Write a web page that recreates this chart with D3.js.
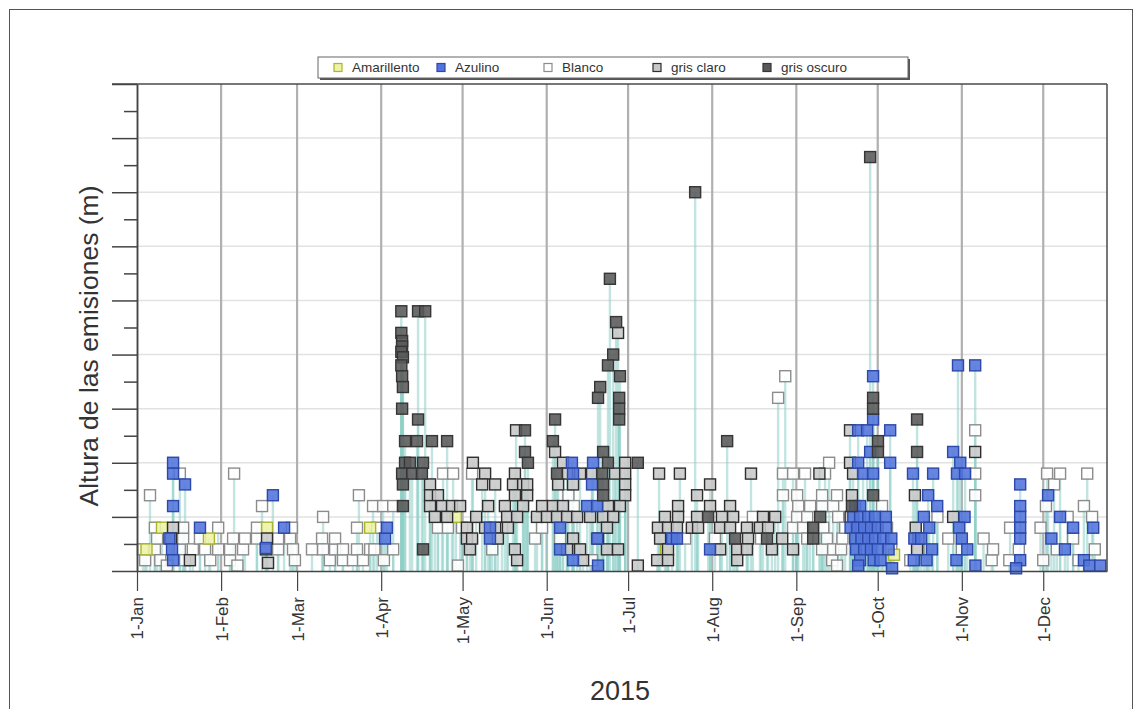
<!DOCTYPE html>
<html>
<head>
<meta charset="utf-8">
<script src="https://cdn.jsdelivr.net/npm/d3@7"></script>
<style>
  body { margin: 0; background: #fff; }
  svg { display: block; }
  text { font-family: "Liberation Sans", Arial, sans-serif; }
</style>
</head>
<body>
<svg id="chart" width="1141" height="709"></svg>
<script>
// Emission heights in 2015, one square per observation: [day of year, height in m]
const categorias = ["Amarillento", "Azulino", "Blanco", "gris claro", "gris oscuro"];
const meses = ["1-Jan", "1-Feb", "1-Mar", "1-Apr", "1-May", "1-Jun", "1-Jul", "1-Aug", "1-Sep", "1-Oct", "1-Nov", "1-Dec"];
const anio = "2015";
const tituloY = "Altura de las emisiones (m)";

const amarillento = [[4.5,80],[10.2,160],[27.5,120],[48.9,160],[86.9,160],[118.5,200],[196,80],[280,60]];

const blanco = [
  [3.2,80],[4,40],[5.8,280],[7.6,80],[7.6,160],[8.4,120],[9.6,40],[12,20],[16.8,80],[16.8,360],[18,120],[18,160],[18.7,40],[21.6,80],[24.2,120],[26.1,80],[28,40],[30.9,80],[30.9,160],
  [35.3,40],[35.3,80],[36.4,120],[36.8,360],[38,20],[40.1,80],[40.8,120],[45.2,120],[45.2,160],[47.1,240],[53,80],[53,120],[57.4,120],[58.1,160],[58.5,80],[59.2,40],
  [65.5,80],[69.2,120],[69.6,80],[69.6,200],[72.1,40],[74,80],[74,120],[76.9,40],[76.9,80],[80.6,40],[82.1,80],[82.1,160],[82.8,280],[84.3,40],[86.9,80],[88,240],[89.5,160],
  [88.5,80],[91.7,240],[92,40],[95.4,240],[95.4,80],[111.9,160],[113.8,360],[115.6,160],[117.5,360],[119.3,20],
  [120.8,160],[124.5,360],[131.9,80],[135.5,160],[147.7,120],
  [150.3,160],[156.9,120],[160,280],[162,240],[168.7,40],
  [203,120],[214,120],[228,200],[231,120],
  [237.3,640],[239.1,280],[239.1,360],[239.9,720],[242.8,160],[242.8,360],[244.3,200],[244.3,280],[244.7,240],[246.5,160],[247.2,360],[248,120],[248,200],[249.1,240],[253.5,80],[253.5,240],[253.5,280],[253.9,160],[254.6,360],[255.3,120],[256.1,400],[257.2,40],[257.6,80],[257.6,240],[259,20],[259,280],[259.4,200],
  [260.5,80],[261,120],[262,160],[268,120],[275.6,240],[277.4,160],[279,80],
  [286,40],[289,80],[292,160],[296,200],[300,120],[305,80],[309.9,280],[309.9,360],[309.9,520],[313,120],[316,40],[316.5,80],
  [322.5,40],[322.8,160],[326,80],[334,160],[335,40],[336,240],[336.4,360],[339,320],[340,80],[341.2,360],[344,200],[346,120],[348,40],[350,240],[351.2,360],[353,200],[354,80]
];

const grisClaro = [
  [14.3,160],[13.5,120],[20.5,40],[48.5,80],[49.3,30],[48.9,120],
  [109,320],[109,280],[111.9,280],[109,240],[113.4,240],[117.1,240],[110.8,200],[115.3,200],[120.1,240],[124.8,400],[129.3,360],[128.2,320],[133,320],[130.4,240],[140.7,520],[140.3,360],[139.6,320],[143.3,320],[140.3,280],[144.8,280],[144.8,320],[136.6,240],[143.3,240],[137.4,200],[141.1,200],[148.4,200],[140.3,80],[141.1,40],[122.6,160],[122.6,120],[123.7,80],[124.5,120],[137.7,160],[133,160],[129.3,160],[126,200],[134,120],
  [155.1,440],[158,400],[159.5,360],[164.3,360],[168.7,360],[177.2,360],[180.9,360],[180.9,400],[180.9,320],[180.9,280],[178.3,880],[156.2,320],[161.7,320],[174.6,240],[179,240],[150.3,240],[154.3,240],[158,240],[152.1,200],[155.8,200],[159.5,200],[163.2,200],[168,200],[172.8,200],[176.5,200],[161.7,120],[170.9,120],[174.2,160],[159.5,80],[164.3,80],[174.2,80],[178.3,80],[165.4,40],[185.6,20],
  [193.4,360],[201.1,360],[227.3,360],[212.2,320],[207.4,280],[200.4,240],[212.2,240],[219.6,240],[195.6,200],[200.4,200],[207.4,200],[216.6,200],[220.7,200],[193,160],[196.7,160],[200,160],[205.5,160],[207.8,160],[215.9,160],[219.6,160],[225.8,160],[193.8,120],[226.2,120],[196.7,80],[215.9,80],[222.2,80],[225.8,80],[192.7,40],[196.7,40],[222.2,40],[231.7,200],[236.2,200],[230.6,160],[233.6,160],[238.8,120],[235,80],[242.8,80],[252.5,360],
  [263.8,520],[263.8,400],[264.9,360],[264.5,280],[264,200],[287.7,280],[288,160],[289,120],[288.5,80],[301.8,200],[309.9,440]
];

const grisOscuro = [
  [98.4,960],[104.6,960],[107.2,960],[98.4,880],[98.7,850],[98.7,830],[98.4,810],[99,790],[98.4,760],[98.7,720],[99,680],[98.7,600],[104.6,560],[99.8,480],[104.2,480],[109.7,480],[115.3,480],[99.8,400],[101.6,400],[106.4,400],[98.7,360],[102.4,360],[106,360],[99,320],[99,240],[106.4,80],
  [144,520],[144,440],[145.1,400],
  [155.1,560],[154.3,480],[172.8,440],[175.3,1080],[177.6,920],[176.5,800],[174.6,760],[179,720],[171.7,680],[170.9,640],[178.7,640],[178.7,600],[178.7,560],[174.6,400],[155.8,360],[172.4,360],[172.8,320],[172.8,280],
  [185.6,400],[206.7,1400],[218.5,480],[211.5,200],[221.4,120],[233.2,120],[252.8,200],[250.2,160],[250.2,120],
  [271.2,1530],[272.3,640],[272.3,600],[274.1,480],[274.1,440],[272.3,280],[264.5,240],[288.5,560],[288.5,440]
];

const azulino = [
  [14.3,400],[14.3,360],[18.7,320],[14.3,240],[24.2,160],[12.9,120],[13.9,80],[14.3,40],[51.1,280],[55.2,160],[48.5,85],[92.4,120],[93.1,160],[131.1,160],[131.1,120],
  [161.3,400],[169.1,400],[161.7,360],[168.7,320],[166.9,240],[170.6,240],[156.9,160],[170.6,120],[156.9,80],[161.7,40],[170.9,20],[198.2,120],[200,120],[212.2,80],
  [272.3,720],[272.3,560],[266.8,520],[270.1,520],[278.6,520],[271.2,440],[278.6,400],[266.8,400],[268.6,360],[272.3,360],[265.7,240],[267.5,240],[265,200],[267.5,200],[270.5,200],[273,200],[277,200],[264,160],[266.5,160],[269,160],[271.5,160],[274,160],[277,160],[265.7,120],[268,120],[270.5,120],[273,120],[276,120],[279,120],[266,80],[269,80],[271.5,80],[274,80],[278,80],[267.5,40],[272.5,40],[275,40],[266.8,20],[279.3,10],
  [287,360],[294.4,360],[292.6,280],[295.9,240],[291,200],[293,160],[287.5,120],[290,120],[294,80],[287.3,40],[292,40],
  [303.6,760],[309.9,760],[301.8,440],[304.4,400],[303.2,360],[306.2,360],[306,200],[304,160],[305,120],[307,80],[303,40],[310,20],
  [326.5,320],[326.5,240],[326.5,200],[326.5,160],[326.5,120],[326.5,40],[325,10],
  [336.8,280],[341.2,200],[346,160],[353.4,160],[338,120],[343,80],[350,40],[352,20],[356,20]
];

// Square styles per class
const estilos = {
  "Amarillento": { fill: "#eef2a6", stroke: "#a9b52c" },
  "Azulino":     { fill: "#5274dc", stroke: "#2c48a8" },
  "Blanco":      { fill: "#ffffff", stroke: "#8c8c8c" },
  "gris claro":  { fill: "#c8c8c8", stroke: "#2e2e2e" },
  "gris oscuro": { fill: "#595959", stroke: "#363636" }
};

const series = [
  { clase: "Blanco", puntos: blanco },
  { clase: "Amarillento", puntos: amarillento },
  { clase: "gris claro", puntos: grisClaro },
  { clase: "Azulino", puntos: azulino },
  { clase: "gris oscuro", puntos: grisOscuro }
];

const svg = d3.select("#chart");
const plotLeft = 137, plotRight = 1107, plotTop = 84, plotBottom = 571;

const inicio = new Date(2015, 0, 1);
const fecha = dia => d3.timeHour.offset(inicio, Math.round((dia - 1) * 24));

const x = d3.scaleTime()
  .domain([inicio, new Date(2015, 11, 24, 12)])
  .range([plotLeft, plotRight]);
const y = d3.scaleLinear().domain([0, 1800]).range([plotBottom, plotTop]);

// outer frame
svg.append("rect")
  .attr("x", 9.5).attr("y", 9.5).attr("width", 1123).attr("height", 720)
  .attr("fill", "none").attr("stroke", "#555").attr("stroke-width", 1);

// horizontal grid at major ticks
const mayores = d3.range(0, 1801, 200);
const menores = d3.range(100, 1800, 200);
svg.append("g").selectAll("line").data(mayores.slice(1, -1)).join("line")
  .attr("x1", plotLeft).attr("x2", plotRight)
  .attr("y1", d => y(d)).attr("y2", d => y(d))
  .attr("stroke", "#e2e2e2").attr("stroke-width", 1.5);

// vertical grid at month starts
const inicioMeses = d3.timeMonth.range(inicio, new Date(2015, 11, 2));
svg.append("g").selectAll("line").data(inicioMeses.slice(1)).join("line")
  .attr("x1", d => x(d)).attr("x2", d => x(d))
  .attr("y1", plotTop).attr("y2", plotBottom)
  .attr("stroke", "#b0b0b0").attr("stroke-width", 2.2);

// stems from each observation down to the baseline
const todos = series.flatMap(s => s.puntos.map(p => ({ clase: s.clase, dia: p[0], altura: p[1] })));
svg.append("g").selectAll("line").data(todos).join("line")
  .attr("x1", d => x(fecha(d.dia))).attr("x2", d => x(fecha(d.dia)))
  .attr("y1", y(0)).attr("y2", d => y(d.altura))
  .attr("stroke", "#8fcfc8").attr("stroke-width", 2.4).attr("stroke-opacity", 0.55);

// squares
const lado = 11;
series.forEach(s => {
  const st = estilos[s.clase];
  svg.append("g").selectAll("rect").data(s.puntos).join("rect")
    .attr("x", d => x(fecha(d[0])) - lado / 2)
    .attr("y", d => y(d[1]) - lado / 2)
    .attr("width", lado).attr("height", lado)
    .attr("fill", st.fill).attr("fill-opacity", 0.88)
    .attr("stroke", st.stroke).attr("stroke-width", 1.4);
});

// plot frame: top and right borders
svg.append("line").attr("x1", plotLeft - 25).attr("x2", plotRight).attr("y1", plotTop).attr("y2", plotTop)
  .attr("stroke", "#4a4a4a").attr("stroke-width", 1.5);
svg.append("line").attr("x1", plotRight).attr("x2", plotRight).attr("y1", plotTop).attr("y2", plotBottom)
  .attr("stroke", "#4a4a4a").attr("stroke-width", 1.5);

// y axis: long ticks at majors, short ticks between, no labels
const ejeY1 = svg.append("g").attr("transform", `translate(${plotLeft},0)`)
  .call(d3.axisLeft(y).tickValues(mayores).tickSize(25).tickSizeOuter(0).tickFormat(""));
const ejeY2 = svg.append("g").attr("transform", `translate(${plotLeft},0)`)
  .call(d3.axisLeft(y).tickValues(menores).tickSize(13).tickSizeOuter(0).tickFormat(""));
[ejeY1, ejeY2].forEach(g => {
  g.selectAll("line").attr("stroke", "#444").attr("stroke-width", 1.5);
  g.select(".domain").attr("stroke", "#444").attr("stroke-width", 1.5);
});

// x axis
const ejeX = svg.append("g").attr("transform", `translate(0,${plotBottom})`)
  .call(d3.axisBottom(x).tickValues(inicioMeses).tickSize(20).tickSizeOuter(0)
    .tickFormat((d, i) => meses[i]));
ejeX.select(".domain").attr("stroke", "#444").attr("stroke-width", 1.5);
ejeX.selectAll(".tick line").attr("stroke", "#444").attr("stroke-width", 1.2);
ejeX.selectAll(".tick text")
  .attr("transform", "rotate(-90)")
  .attr("text-anchor", "end")
  .attr("x", -26).attr("y", 0).attr("dy", "0.35em")
  .attr("fill", "#333").style("font-size", "17px")
  .style("font-family", "'Liberation Sans', Arial, sans-serif");

svg.append("text").attr("x", 620).attr("y", 700)
  .attr("text-anchor", "middle").attr("fill", "#333").style("font-size", "27px").text(anio);

svg.append("text").attr("transform", `translate(98,346) rotate(-90)`)
  .attr("text-anchor", "middle").attr("fill", "#333").style("font-size", "26.5px").text(tituloY);

// legend
const leyenda = svg.append("g");
leyenda.append("rect").attr("x", 320).attr("y", 59).attr("width", 590).attr("height", 21).attr("fill", "#555");
leyenda.append("rect").attr("x", 318).attr("y", 57).attr("width", 590).attr("height", 21)
  .attr("fill", "#fff").attr("stroke", "#666").attr("stroke-width", 1);
const posLeyenda = [338, 441, 548, 657, 767];
categorias.forEach((c, i) => {
  const st = estilos[c];
  leyenda.append("rect").attr("x", posLeyenda[i] - 4).attr("y", 63.5).attr("width", 8).attr("height", 8)
    .attr("fill", st.fill).attr("stroke", st.stroke).attr("stroke-width", 1.2);
  leyenda.append("text").attr("x", posLeyenda[i] + 14).attr("y", 72)
    .attr("fill", "#333").style("font-size", "13.5px").text(c);
});
</script>
</body>
</html>
